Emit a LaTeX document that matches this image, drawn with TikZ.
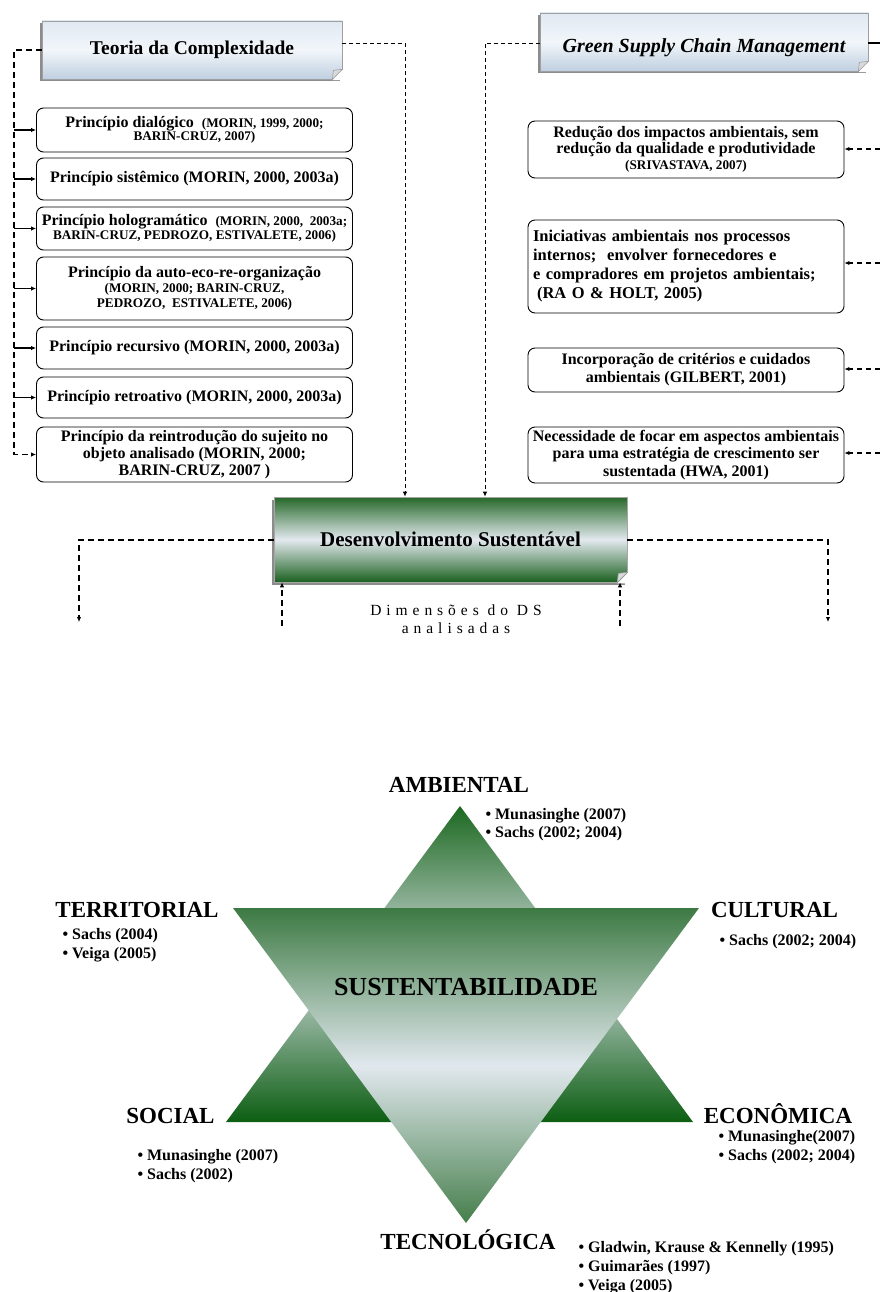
\documentclass[tikz,border=0pt]{standalone}
\usepackage{fontspec}
\setmainfont{Liberation Serif}
\usetikzlibrary{arrows.meta,calc,shadows}
\definecolor{hdrtop}{HTML}{E0E9F3}
\definecolor{hdrmid}{HTML}{F2F6FA}
\definecolor{hdrbot}{HTML}{BFCFE0}
\definecolor{dsgreen}{HTML}{256828}
\definecolor{dsgreenb}{HTML}{1B6120}
\definecolor{dslight}{HTML}{E3E9EF}
\definecolor{uptop}{HTML}{1C6920}
\definecolor{upmid}{HTML}{D3DCE0}
\definecolor{upbot}{HTML}{0C5E12}
\definecolor{dntop}{HTML}{3D7A43}
\definecolor{dnmid}{HTML}{E1E8EE}
\definecolor{dnbot}{HTML}{457E4B}
\newcommand\reff{\fontsize{13.2}{13}\selectfont}
\newcommand\foldcorner[1]{%
  \fill[white] ($(#1.south east)+(-10,0.9)$) -- ($(#1.south east)+(0.9,0.9)$) -- ($(#1.south east)+(0.9,-10)$) -- cycle;
  \filldraw[fill=gray!30, draw=gray!75, line width=0.6pt] ($(#1.south east)+(-10,0)$) -- ($(#1.south east)+(0,-10)$) -- ($(#1.south east)+(-9,-9)$) -- cycle;}
\begin{document}
\begin{tikzpicture}[x=1pt,y=-1pt,
  every node/.style={font=\bfseries},
  hdrbox/.style={draw=gray!75, line width=0.7pt, top color=hdrtop, bottom color=hdrbot, middle color=hdrmid, inner sep=0pt,
    drop shadow={shadow xshift=-2.5pt, shadow yshift=-2.5pt, fill=black!45, opacity=1}},
  dsbox/.style={draw=gray!70, line width=0.7pt, top color=dsgreen, bottom color=dsgreenb, middle color=dslight, inner sep=0pt,
    drop shadow={shadow xshift=-2.5pt, shadow yshift=-2.5pt, fill=black!45, opacity=1}},
  pbox/.style={draw=black, line width=0.9pt, rounded corners=7pt, minimum width=316pt, inner sep=0pt, align=center, fill=white},
  trunkline/.style={line width=1.4pt, dash pattern=on 6pt off 4pt},
  thindash/.style={line width=0.9pt, dash pattern=on 4pt off 3pt},
  sidedash/.style={line width=1.5pt, dash pattern=on 6pt off 4pt},
  rdash/.style={line width=1.3pt, dash pattern=on 5pt off 4pt},
  tip/.style={-{Latex[length=5pt,width=4.5pt]}},
  dimlabel/.style={font=\fontsize{23}{25}\selectfont\bfseries, anchor=base},
  bul/.style={font=\fontsize{16}{18}\selectfont\bfseries, anchor=base west},
]
\useasboundingbox (0,0) rectangle (880,1292);
\fill[white] (0,0) rectangle (880,1292);

% ---------- header boxes ----------
\node[hdrbox, minimum width=300pt, minimum height=58pt, font=\fontsize{19.5}{22}\selectfont\bfseries] (tc) at (192,50) {\raisebox{-5pt}[0pt][0pt]{Teoria da Complexidade}};
\node[hdrbox, minimum width=328pt, minimum height=58pt, font=\fontsize{20}{22}\selectfont\bfseries\itshape] (gscm) at (704,42) {\raisebox{-11pt}[0pt][0pt]{Green Supply Chain Management}};
\foldcorner{tc}
\foldcorner{gscm}

% ---------- left boxes ----------
\node[pbox, minimum height=44pt, font=\fontsize{16}{13.5}\selectfont\bfseries] (p1) at (194.5,130)
  {Princípio dialógico \ {\reff (MORIN, 1999, 2000;}\\{\reff BARIN-CRUZ, 2007)}};
\node[pbox, minimum height=42pt, font=\fontsize{16}{17}\selectfont\bfseries] (p2) at (194.5,179)
  {Princípio sistêmico (MORIN, 2000, 2003a)};
\node[pbox, minimum height=43pt, font=\fontsize{16}{13.5}\selectfont\bfseries] (p3) at (194.5,228.5)
  {Princípio hologramático \ {\reff (MORIN, 2000, \ 2003a;}\\{\reff BARIN-CRUZ, PEDROZO, ESTIVALETE, 2006)}};
\node[pbox, minimum height=63pt, font=\fontsize{16}{15}\selectfont\bfseries] (p4) at (194.5,288.5)
  {Princípio da auto-eco-re-organização\\{\reff (MORIN, 2000; BARIN-CRUZ,}\\{\reff PEDROZO, \ ESTIVALETE, 2006)}};
\node[pbox, minimum height=42pt, font=\fontsize{16}{17}\selectfont\bfseries] (p5) at (194.5,348)
  {Princípio recursivo (MORIN, 2000, 2003a)};
\node[pbox, minimum height=41pt, font=\fontsize{16}{17}\selectfont\bfseries] (p6) at (194.5,397.5)
  {Princípio retroativo (MORIN, 2000, 2003a)};
\node[pbox, minimum height=55pt, font=\fontsize{16}{17}\selectfont\bfseries] (p7) at (194.5,454.5)
  {Princípio da reintrodução do sujeito no\\objeto analisado (MORIN, 2000;\\BARIN-CRUZ, 2007 )};

% ---------- right boxes ----------
\node[pbox, minimum height=57pt, font=\fontsize{16}{16}\selectfont\bfseries] (r1) at (686,149.5)
  {Redução dos impactos ambientais, sem\\redução da qualidade e produtividade\\{\reff (SRIVASTAVA, 2007)}};
\node[pbox, minimum height=93pt, text width=306pt, inner xsep=5pt, align=left, font=\fontsize{16.5}{19}\selectfont\bfseries] (r2) at (686,266.5)
  {Iniciativas ambientais nos processos\\internos; \ envolver fornecedores e\\e compradores em projetos ambientais;\\\hspace*{4pt}(RA O \& HOLT, 2005)};
\node[pbox, minimum height=44pt, font=\fontsize{16}{18}\selectfont\bfseries] (r3) at (686,370)
  {Incorporação de critérios e cuidados\\ambientais (GILBERT, 2001)};
\node[pbox, minimum height=56pt, font=\fontsize{16}{17.5}\selectfont\bfseries] (r4) at (686,455)
  {Necessidade de focar em aspectos ambientais\\para uma estratégia de crescimento ser\\sustentada (HWA, 2001)};

% ---------- central box ----------
\node[dsbox, minimum width=353pt, minimum height=85pt, font=\fontsize{21}{24}\selectfont\bfseries] (ds) at (450.5,539.5) {Desenvolvimento Sustentável};
\foldcorner{ds}
\node[font=\fontsize{15.5}{18.5}\selectfont\mdseries\addfontfeatures{LetterSpace=32}, align=center] (dim) at (456,619) {Dimensões do DS\\analisadas};

% ---------- connectors ----------
\coordinate (tl) at (14,50);
\coordinate (bl) at (14,454.5);
\draw[trunkline, tip] (tc.west) -- (tl) -- (bl) -- (p7.west);
\foreach \p in {p1,p2,p3,p4,p5,p6}
  \draw[line width=1.1pt, tip] (tl |- \p.west) -- (\p.west);

\coordinate (tr) at (405,43);
\draw[thindash, tip] (tc.east |- tr) -- (tr) -- (tr |- ds.north);
\coordinate (gl) at (485,43);
\draw[thindash, tip] (gscm.west |- gl) -- (gl) -- (gl |- ds.north);
\coordinate (gr) at (880,43);
\draw[line width=1.4pt] (gscm.east |- gr) -- (gr);

\coordinate (e1) at (880,149);
\coordinate (e2) at (880,263);
\coordinate (e3) at (880,369);
\coordinate (e4) at (880,453);
\draw[rdash, tip] (e1) -- (e1 -| r1.east);
\draw[rdash, tip] (e2) -- (e2 -| r2.east);
\draw[rdash, tip] (e3) -- (e3 -| r3.east);
\draw[rdash, tip] (e4) -- (e4 -| r4.east);

\coordinate (dl) at (79,540);
\coordinate (dlb) at (79,622);
\coordinate (dr) at (828,540);
\coordinate (drb) at (828,622);
\draw[sidedash, tip] (ds.west |- dl) -- (dl) -- (dlb);
\draw[sidedash, tip] (ds.east |- dr) -- (dr) -- (drb);

\coordinate (ub1) at (282,626);
\coordinate (ub2) at (620,626);
\draw[sidedash, tip] (ub1) -- (ub1 |- ds.south);
\draw[sidedash, tip] (ub2) -- (ub2 |- ds.south);

% ---------- star ----------
\shade[top color=uptop, bottom color=upbot, middle color=upmid] (460,806) -- (693,1122) -- (226,1122) -- cycle;
\shade[top color=dntop, bottom color=dnbot, middle color=dnmid] (233,908) -- (699,908) -- (466,1223) -- cycle;

\node[font=\fontsize{26}{28}\selectfont\bfseries, anchor=base] (sus) at (466,995.5) {SUSTENTABILIDADE};

\node[dimlabel] (amb) at (459,792.5) {AMBIENTAL};
\node[bul] (amb1) at (482,819.5) {• Munasinghe (2007)};
\node[bul] (amb2) at (482,837.5) {• Sachs (2002; 2004)};

\node[dimlabel] (ter) at (137,917.5) {TERRITORIAL};
\node[bul] (ter1) at (59,939.5) {• Sachs (2004)};
\node[bul] (ter2) at (59,958.5) {• Veiga (2005)};

\node[dimlabel] (cul) at (774.5,917.5) {CULTURAL};
\node[bul] (cul1) at (716,945.5) {• Sachs (2002; 2004)};

\node[dimlabel] (soc) at (170.5,1123.5) {SOCIAL};
\node[bul] (soc1) at (134,1160.5) {• Munasinghe (2007)};
\node[bul] (soc2) at (134,1179.5) {• Sachs (2002)};

\node[dimlabel] (eco) at (778,1123.5) {ECONÔMICA};
\node[bul] (eco1) at (715,1141.5) {• Munasinghe(2007)};
\node[bul] (eco2) at (715,1160.5) {• Sachs (2002; 2004)};

\node[dimlabel] (tec) at (468,1249.5) {TECNOLÓGICA};
\node[bul] (tec1) at (575,1252.5) {• Gladwin, Krause \& Kennelly (1995)};
\node[bul] (tec2) at (575,1271.5) {• Guimarães (1997)};
\node[bul] (tec3) at (575,1290.5) {• Veiga (2005)};
\end{tikzpicture}
\end{document}
